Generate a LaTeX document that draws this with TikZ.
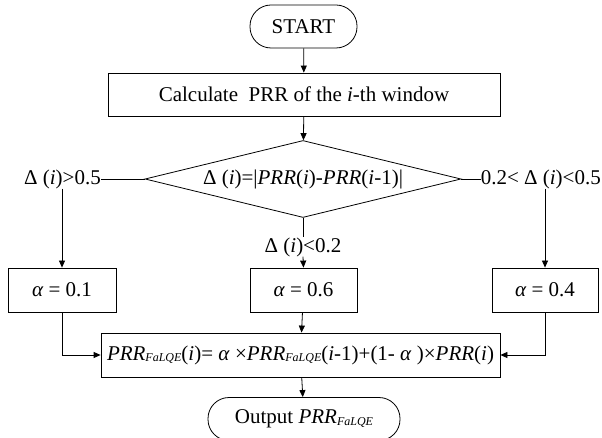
\documentclass[tikz,border=0pt]{standalone}
\usepackage{fontspec}
\setmainfont{Liberation Serif}
\usetikzlibrary{shapes.geometric,arrows.meta}
% small italic subscript used for the FaLQE index
\newcommand\lqsub[1]{\raisebox{-1.8pt}{\fontsize{12}{12}\selectfont\textit{#1}}}

\begin{document}
\begin{tikzpicture}[x=1pt,y=-1pt,
  font=\fontsize{21}{25}\selectfont,
  every node/.style={inner sep=0pt},
  flow/.style={line width=0.8pt},
  arr/.style={flow,-{Triangle[length=7pt,width=6pt]}},
  proc/.style={draw,line width=0.8pt,rectangle,minimum height=44pt},
  term/.style={draw,line width=0.8pt,rectangle,rounded corners=21pt,minimum height=43pt},
  decide/.style={draw,line width=0.8pt,diamond,aspect=4.1,minimum width=316pt,minimum height=77pt}]
\useasboundingbox (0,0) rectangle (602,438);

% boxes
\node[term,minimum width=107pt] (start) at (303.5,26.5) {START};
\node[proc,minimum width=392pt,minimum height=43pt] (calc) at (304,94.5)
  {Calculate\ \ PRR of the \textit{i}-th window};
\node[decide] (dec) at (303,179)
  {Δ (\textit{i})=|\textit{PRR}(\textit{i})-\textit{PRR}(\textit{i}-1)|};

% branch labels
\node[anchor=east] (hi) at (101,179) {Δ (\textit{i})>0.5};
\node[anchor=east] (mid) at (601,179) {0.2< Δ (\textit{i})<0.5};
\node (lo) at (303,247) {Δ (\textit{i})<0.2};

% smoothing factors
\node[proc,minimum width=108pt] (a1) at (62,290) {\textit{α} = 0.1};
\node[proc,minimum width=107pt] (a2) at (303.5,290) {\textit{α} = 0.6};
\node[proc,minimum width=106pt] (a3) at (545,290) {\textit{α} = 0.4};

% update and output
\node[proc,minimum width=399pt] (form) at (300.5,355)
  {\textit{PRR}\lqsub{FaLQE}(\textit{i})= \textit{α} ×\textit{PRR}\lqsub{FaLQE}(\textit{i}-1)+(1- \textit{α} )×\textit{PRR}(\textit{i})};
\node[term,minimum width=192pt] (out) at (304,419) {Output \textit{PRR}\lqsub{FaLQE}};

% connectors
\draw[arr] (start) -- (calc);
\draw[arr] (calc) -- (dec);
\draw[flow] (dec.west) -- (dec.west -| hi.east);
\draw[flow] (dec.east) -- (dec.east -| mid.west);
\draw[arr] (hi.south -| a1.north) -- (a1.north);
\draw[arr] (mid.south -| a3.north) -- (a3.north);
\draw[flow] (dec.south) -- (lo.north);
\draw[arr] (lo.south) -- (a2.north);
\draw[arr] (a2) -- (form);
\draw[arr] (a1.south) |- (form.west);
\draw[arr] (a3.south) |- (form.east);
\draw[arr] (form) -- (out);
\end{tikzpicture}
\end{document}
